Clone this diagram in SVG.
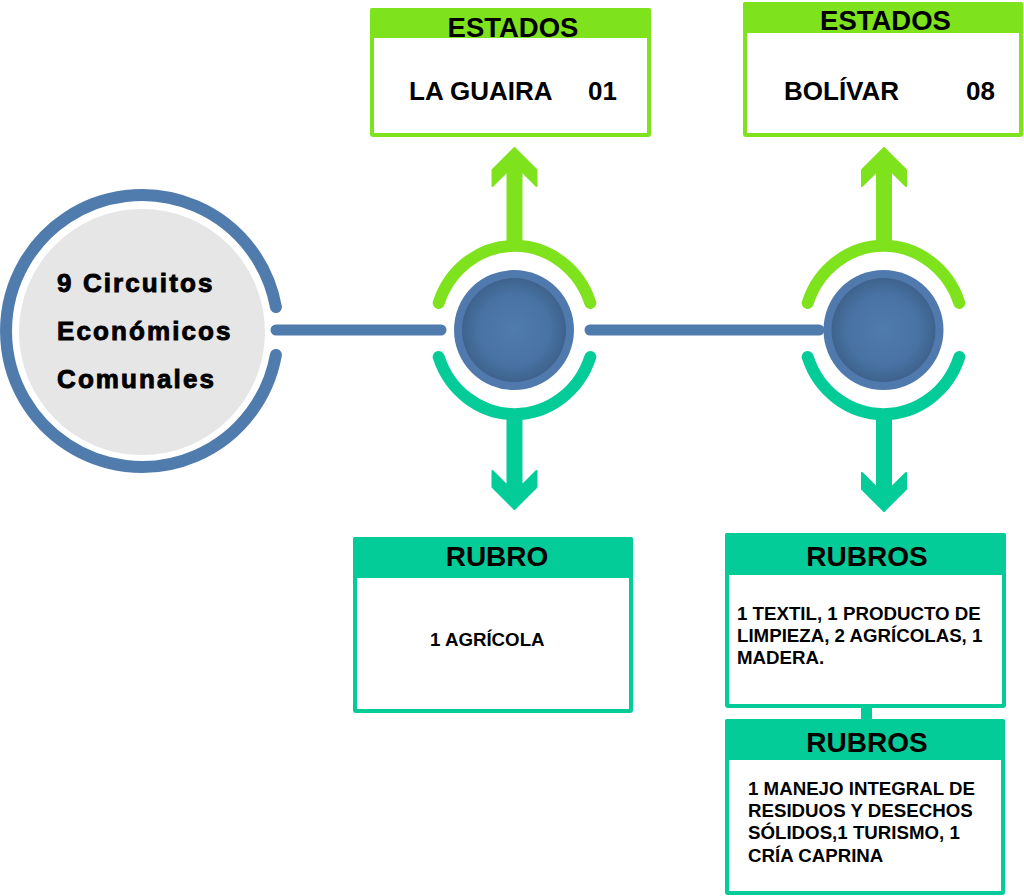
<svg xmlns="http://www.w3.org/2000/svg" width="1024" height="896" viewBox="0 0 1024 896">
  <defs>
    <radialGradient id="disc" cx="0.5" cy="0.5" r="0.5">
      <stop offset="0" stop-color="#4f7bad"/>
      <stop offset="0.7" stop-color="#4872a2"/>
      <stop offset="1" stop-color="#3e628c"/>
    </radialGradient>
    <style>
      .t{font-family:"Liberation Sans",Arial,sans-serif;font-weight:bold;fill:#000}
      .hdr{font-size:28px;text-anchor:middle}
      .est{font-size:27.5px;text-anchor:middle}
      .val{font-size:26px}
      .body{font-size:18.7px}
      .hub{font-size:26px;letter-spacing:2.1px;stroke:#000;stroke-width:0.9px}
      .blue{stroke:#4f7bad;fill:none;stroke-linecap:round}
      .garc{stroke:#7ee21c;stroke-width:12;fill:none;stroke-linecap:round}
      .tarc{stroke:#03cc99;stroke-width:12;fill:none;stroke-linecap:round}
      .garrow{fill:#7ee21c;stroke:#7ee21c;stroke-width:2;stroke-linejoin:round}
      .tarrow{fill:#03cc99;stroke:#03cc99;stroke-width:2;stroke-linejoin:round}
      .gbox{fill:#fff;stroke:#7ee21c;stroke-width:4}
      .tbox{fill:#fff;stroke:#03cc99;stroke-width:4}
    </style>
  </defs>
  <rect width="1024" height="896" fill="#fff"/>

  <g id="connectors">
    <line class="blue" x1="276" y1="330" x2="441" y2="330" stroke-width="11"/>
    <line class="blue" x1="590" y1="330" x2="819" y2="330" stroke-width="11"/>
    <polygon class="garrow" points="514.5,148 536.5,170 536.5,186 521.5,171 521.5,247 507.5,247 507.5,171 492.5,186 492.5,170"/>
    <polygon class="tarrow" points="514.5,509 536.5,487 536.5,471 521.5,486 521.5,413 507.5,413 507.5,486 492.5,471 492.5,487"/>
    <polygon class="garrow" points="884,148 906,170 906,186 891,171 891,247 877,247 877,171 862,186 862,170"/>
    <polygon class="tarrow" points="884,511 906,489 906,473 891,488 891,413 877,413 877,488 862,473 862,489"/>
    <rect x="861" y="704" width="11" height="18" fill="#03cc99"/>
  </g>

  <g id="hub">
    <circle cx="142" cy="332" r="123" fill="#e6e6e6"/>
    <path class="blue" stroke-width="12" d="M 275.9 307 A 136 136 0 1 0 275.9 355"/>
    <text class="t hub" x="57" y="292">9 Circuitos</text>
    <text class="t hub" x="57" y="340">Económicos</text>
    <text class="t hub" x="57" y="388">Comunales</text>
  </g>

  <g id="node1">
    <path class="garc" d="M 438.7 303 A 80 84 0 0 1 590.3 303"/>
    <path class="tarc" d="M 438.7 357 A 80 84 0 0 0 590.3 357"/>
    <circle cx="514" cy="330" r="60" fill="#5079ad"/>
    <circle cx="514" cy="330" r="52" fill="url(#disc)"/>
  </g>

  <g id="node2">
    <path class="garc" d="M 807.7 303 A 80 84 0 0 1 959.3 303"/>
    <path class="tarc" d="M 807.7 357 A 80 84 0 0 0 959.3 357"/>
    <circle cx="883.5" cy="330" r="60" fill="#5079ad"/>
    <circle cx="883.5" cy="330" r="52" fill="url(#disc)"/>
  </g>

  <g id="estados1">
    <rect class="gbox" x="372" y="10" width="277" height="125" rx="1"/>
    <rect x="370" y="8" width="281" height="30" rx="2" fill="#7ee21c"/>
    <text class="t est" x="513" y="37">ESTADOS</text>
    <text class="t val" x="409" y="100">LA GUAIRA</text>
    <text class="t val" x="588" y="100">01</text>
  </g>

  <g id="estados2">
    <rect class="gbox" x="745" y="4" width="276" height="131" rx="1"/>
    <rect x="743" y="2" width="280" height="31" rx="2" fill="#7ee21c"/>
    <text class="t est" x="885.5" y="30">ESTADOS</text>
    <text class="t val" x="784" y="100">BOLÍVAR</text>
    <text class="t val" x="966" y="100">08</text>
  </g>

  <g id="rubro1">
    <rect class="tbox" x="355" y="539" width="276" height="172" rx="1"/>
    <rect x="353" y="537" width="280" height="41" rx="2" fill="#03cc99"/>
    <text class="t hdr" x="497" y="566">RUBRO</text>
    <text class="t body" x="430" y="646">1 AGRÍCOLA</text>
  </g>

  <g id="rubros2">
    <rect class="tbox" x="727" y="535" width="277" height="171" rx="1"/>
    <rect x="725" y="533" width="281" height="42" rx="2" fill="#03cc99"/>
    <text class="t hdr" x="867" y="566">RUBROS</text>
    <text class="t body" x="737" y="620">1 TEXTIL, 1 PRODUCTO DE</text>
    <text class="t body" x="737" y="642">LIMPIEZA, 2 AGRÍCOLAS, 1</text>
    <text class="t body" x="737" y="664">MADERA.</text>
  </g>

  <g id="rubros3">
    <rect class="tbox" x="727" y="721" width="276" height="172" rx="1"/>
    <rect x="725" y="719" width="280" height="41" rx="2" fill="#03cc99"/>
    <text class="t hdr" x="867" y="752">RUBROS</text>
    <text class="t body" x="748" y="795">1 MANEJO INTEGRAL DE</text>
    <text class="t body" x="748" y="817">RESIDUOS Y DESECHOS</text>
    <text class="t body" x="748" y="839">SÓLIDOS,1 TURISMO, 1</text>
    <text class="t body" x="748" y="862">CRÍA CAPRINA</text>
  </g>
</svg>
